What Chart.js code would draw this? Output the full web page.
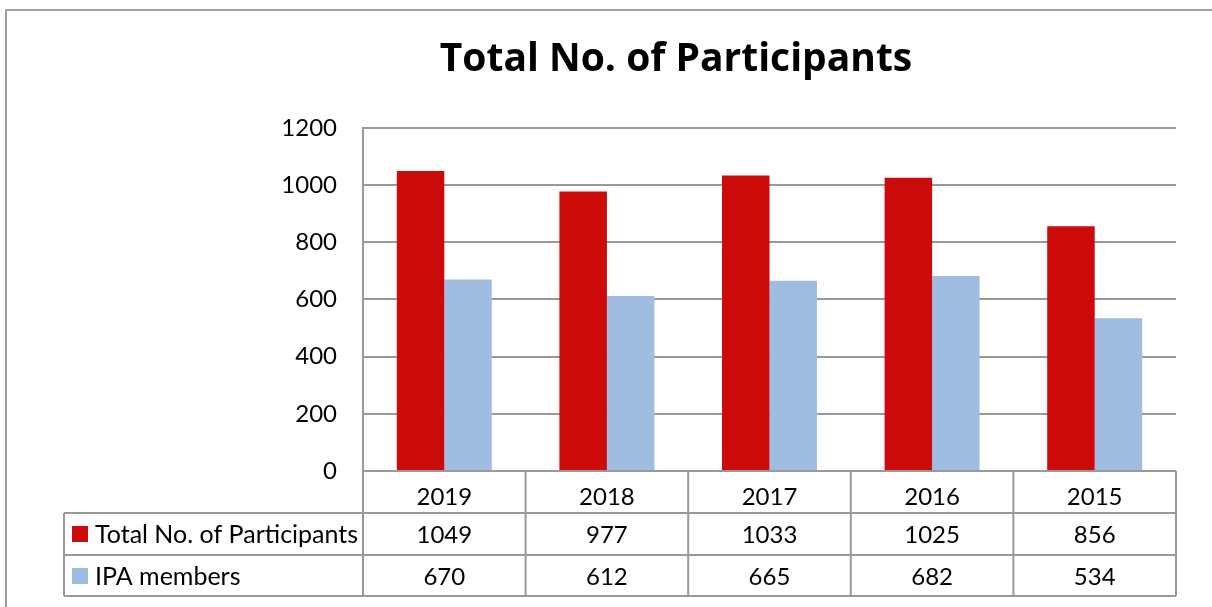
<!DOCTYPE html>
<html>
<head>
<meta charset="utf-8">
<script src="https://cdn.jsdelivr.net/npm/chart.js@4/dist/chart.umd.min.js"></script>
<style>
  html, body { margin: 0; padding: 0; background: #fff; }
  #wrap { width: 1212px; height: 607px; }
</style>
</head>
<body>
<div id="wrap"><canvas id="chart" width="1212" height="607"></canvas></div>
<script>
'use strict';

// ── Data ──────────────────────────────────────
const YEARS        = ['2019', '2018', '2017', '2016', '2015'];
const TOTAL        = [1049, 977, 1033, 1025, 856];
const IPA_MEMBERS  = [670, 612, 665, 682, 534];
const SERIES_NAMES = ['Total No. of Participants', 'IPA members'];
const Y_TICKS      = [0, 200, 400, 600, 800, 1000, 1200];

const RED   = '#cc0a0a';
const BLUE  = '#9fbde1';
const GRID  = '#999999';
const FONT  = 'Lato, "Open Sans", sans-serif';

// ── Data table under the axis (drawn with the x scale) ──
const tablePlugin = {
  id: 'dataTable',
  afterDraw(chart) {
    const ctx = chart.ctx;
    const x = chart.scales.x;
    const area = chart.chartArea;
    const rowH = 42;
    const top = area.bottom;           // year row top
    const r1 = top + rowH;             // series rows
    const r2 = r1 + rowH;
    const r3 = r2 + rowH - 1;
    const labelLeft = 64;
    const step = (area.right - area.left) / YEARS.length;

    ctx.save();
    // outer frame
    ctx.strokeStyle = '#a0a0a0';
    ctx.lineWidth = 2;
    ctx.strokeRect(6, 10, 1220, 610);

    ctx.strokeStyle = GRID;
    ctx.lineWidth = 2;
    ctx.beginPath();
    // horizontal lines
    ctx.moveTo(labelLeft, r1); ctx.lineTo(area.right, r1);
    ctx.moveTo(labelLeft, r2); ctx.lineTo(area.right, r2);
    ctx.moveTo(labelLeft, r3); ctx.lineTo(area.right, r3);
    // vertical lines
    ctx.moveTo(labelLeft, r1); ctx.lineTo(labelLeft, r3);
    for (let i = 0; i <= YEARS.length; i++) {
      const px = area.left + step * i;
      ctx.moveTo(px, top); ctx.lineTo(px, r3);
    }
    ctx.stroke();

    // series rows
    ctx.fillStyle = '#000';
    ctx.textBaseline = 'middle';
    const rows = [[TOTAL, RED, r1], [IPA_MEMBERS, BLUE, r2]];
    rows.forEach(([vals, col, ry], k) => {
      const cy = ry + rowH / 2;
      ctx.fillStyle = col;
      ctx.fillRect(72, cy - 8, 16, 16);
      ctx.fillStyle = '#000';
      ctx.textAlign = 'left';
      ctx.font = '25px ' + FONT;
      ctx.fillText(SERIES_NAMES[k], 95, cy + 1);
      ctx.textAlign = 'center';
      ctx.font = '24px ' + FONT;
      vals.forEach((v, i) => {
        ctx.fillText(String(v), x.getPixelForValue(i), cy + 1);
      });
    });
    ctx.restore();
  }
};

new Chart(document.getElementById('chart'), {
  type: 'bar',
  data: {
    labels: YEARS,
    datasets: [
      { label: SERIES_NAMES[0], data: TOTAL, backgroundColor: RED },
      { label: SERIES_NAMES[1], data: IPA_MEMBERS, backgroundColor: BLUE },
    ],
  },
  options: {
    responsive: false,
    animation: false,
    events: [],
    layout: { padding: { left: 176, right: 36, top: 0, bottom: 94 } },
    datasets: { bar: { categoryPercentage: 0.584, barPercentage: 1 } },
    plugins: {
      legend: { display: false },
      tooltip: { enabled: false },
      title: {
        display: true,
        text: 'Total No. of Participants',
        color: '#000',
        font: { family: '"Open Sans", Lato, sans-serif', size: 39, weight: 'bold', lineHeight: 1.2 },
        padding: { top: 36, bottom: 45 },
      },
    },
    scales: {
      x: {
        afterFit: s => { s.height = 42; },
        grid: { display: false, drawTicks: false },
        border: { display: false },
        ticks: { color: '#000', padding: 12, font: { family: FONT, size: 24 } },
      },
      y: {
        min: 0,
        max: 1200,
        afterFit: s => { s.width = 187; },
        afterBuildTicks: s => { s.ticks = Y_TICKS.map(v => ({ value: v })); },
        grid: { color: GRID, lineWidth: 2, drawTicks: false },
        border: { display: true, color: GRID, width: 2 },
        ticks: {
          color: '#000',
          padding: 26,
          font: { family: FONT, size: 24 },
          callback: v => String(v),
        },
      },
    },
  },
  plugins: [tablePlugin],
});
</script>
</body>
</html>
